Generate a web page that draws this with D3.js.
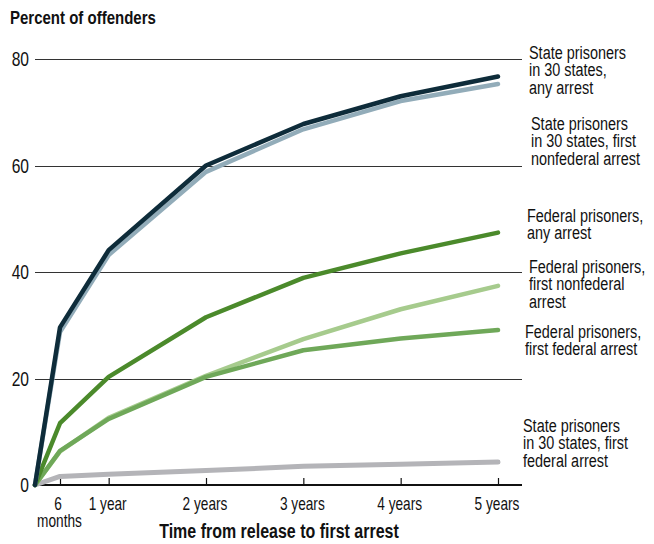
<!DOCTYPE html>
<html><head><meta charset="utf-8">
<script src="https://cdn.jsdelivr.net/npm/d3@7"></script>
<style>
html,body{margin:0;padding:0;background:#fff;}
svg text{font-family:"Liberation Sans",Arial,sans-serif;fill:#111;}
</style></head>
<body>
<svg id="c" width="654" height="544"></svg>
<script>
// ---- data ----
const times = [0, 0.5, 1, 2, 3, 4, 5];
const stateAny = [0, 29.6, 44.1, 60.0, 67.8, 73.0, 76.7];
const stateFirstNonfed = [0, 28.7, 43.2, 58.8, 66.8, 72.1, 75.3];
const fedAny = [0, 11.6, 20.3, 31.5, 38.9, 43.5, 47.4];
const fedFirstNonfed = [0, 6.3, 12.6, 20.5, 27.4, 33.0, 37.4];
const fedFirstFed = [0, 6.4, 12.4, 20.3, 25.3, 27.5, 29.1];
const stateFirstFed = [0, 1.6, 2.0, 2.7, 3.5, 3.9, 4.3];
const yTicks = [0, 20, 40, 60, 80];
const xTickValues = [0.5, 1, 2, 3, 4, 5];
const xTickLabels = [["6", "months"], ["1 year"], ["2 years"], ["3 years"], ["4 years"], ["5 years"]];
const seriesNames = [
  ["State prisoners", "in 30 states, first", "federal arrest"],
  ["Federal prisoners,", "first nonfederal", "arrest"],
  ["Federal prisoners,", "first federal arrest"],
  ["Federal prisoners,", "any arrest"],
  ["State prisoners", "in 30 states, first", "nonfederal arrest"],
  ["State prisoners", "in 30 states,", "any arrest"]
];
const seriesValues = [stateFirstFed, fedFirstNonfed, fedFirstFed, fedAny, stateFirstNonfed, stateAny];

// ---- style / layout ----
const colors = ["#b4b4b8", "#a6cb8d", "#6fa859", "#4b8a2b", "#92acb9", "#0e2c3a"];
const widths = [5, 4.5, 4.5, 4.5, 4.5, 4.5];
const labelX = [523, 529, 525, 527, 531, 529];
const labelY = [432, 273, 338, 222, 130, 59];
const lineGap = 17.5;
const SX = 0.76; // horizontal condense

const svg = d3.select("#c");
const x = d3.scaleLinear().domain([0, 0.5, 5]).range([35, 60, 498]);
const y = d3.scaleLinear().domain([0, 80]).range([485, 59]);
const axisEnd = 522;

function place(sel, px, py, s) {
  return sel.attr("transform", (d, i) => `translate(${typeof px === "function" ? px(d, i) : px},${typeof py === "function" ? py(d, i) : py}) scale(${s},1)`);
}

// gridlines
svg.append("g").selectAll("line").data(yTicks.filter(d => d > 0)).join("line")
  .attr("x1", x(0)).attr("x2", axisEnd)
  .attr("y1", d => Math.round(y(d)) + 0.5).attr("y2", d => Math.round(y(d)) + 0.5)
  .attr("stroke", "#333").attr("stroke-width", 1);

// y labels
place(svg.append("g").selectAll("text").data(yTicks).join("text"), 29, d => y(d), 0.78)
  .attr("dy", "0.35em").attr("text-anchor", "end").attr("font-size", 20).text(d => d);

// title
place(svg.append("text"), 10, 24, 0.79).attr("font-size", 19)
  .attr("font-weight", "bold").text("Percent of offenders");

// x axis
const xAxis = d3.axisBottom(x).tickValues(xTickValues).tickSizeInner(-7).tickSizeOuter(0).tickFormat("");
const gx = svg.append("g").attr("transform", `translate(0,${y(0)})`).call(xAxis);
gx.select(".domain").remove();
gx.selectAll(".tick line").attr("stroke", "#111").attr("stroke-width", 1.2);
svg.append("line").attr("x1", x(0)).attr("x2", axisEnd).attr("y1", y(0)).attr("y2", y(0))
  .attr("stroke", "#111").attr("stroke-width", 2.2);

const xl = place(svg.append("g").selectAll("text").data(xTickValues).join("text"),
  (d, i) => x(d) - (i === 0 ? 2 : 1), 510, SX)
  .attr("text-anchor", "middle").attr("font-size", 18);
xl.selectAll("tspan").data((d, i) => xTickLabels[i]).join("tspan")
  .attr("x", (s, j) => (j === 1 ? 2 : 0))
  .attr("dy", (s, j) => j === 0 ? 0 : 17).text(s => s);

place(svg.append("text"), 279, 538, 0.82).attr("text-anchor", "middle")
  .attr("font-size", 19.5).attr("font-weight", "bold").text("Time from release to first arrest");

// lines
const line = d3.line().x((d, i) => x(times[i])).y(d => y(d));
svg.append("g").selectAll("path").data(seriesValues).join("path")
  .attr("d", d => line(d)).attr("fill", "none")
  .attr("stroke", (d, i) => colors[i]).attr("stroke-width", (d, i) => widths[i])
  .attr("stroke-linejoin", "round").attr("stroke-linecap", "round");

// labels
const lg = place(svg.append("g").selectAll("text").data(seriesNames).join("text"),
  (d, i) => labelX[i], (d, i) => labelY[i], SX).attr("font-size", 19);
lg.selectAll("tspan").data(d => d).join("tspan")
  .attr("x", 0).attr("dy", (s, j) => j === 0 ? 0 : lineGap).text(s => s);
</script>
</body></html>
